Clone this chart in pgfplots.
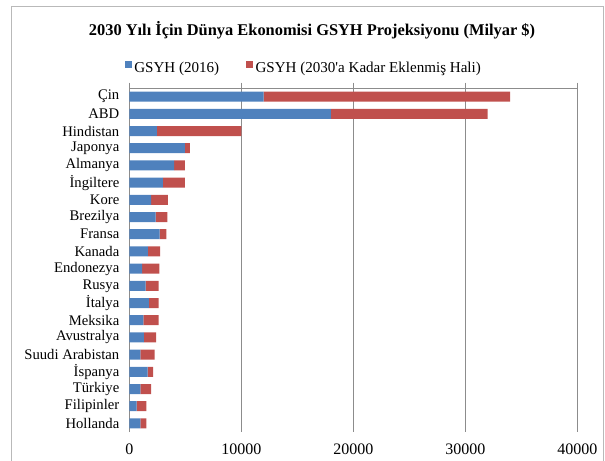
\documentclass[border=0pt]{standalone}
\usepackage{pgfplots}
\pgfplotsset{compat=1.18}
\usepackage{fontspec}
\setmainfont{Liberation Serif}
\definecolor{gblue}{HTML}{4F81BD}
\definecolor{gred}{HTML}{C0504D}
\definecolor{gridc}{HTML}{8C8C8C}
\begin{document}
\begin{tikzpicture}[x=1pt,y=1pt]
\draw[gray!55, line width=0.75pt] (8.25,-5) rectangle (452.25,339.75);
\node[font=\bfseries\fontsize{12.3}{14}\selectfont] at (234,322.5) {2030 Yılı İçin Dünya Ekonomisi GSYH Projeksiyonu (Milyar \$)};
\begin{axis}[
  at={(97pt,21pt)}, anchor=south west,
  scale only axis, width=336pt, height=258pt,
  xbar stacked, bar width=7.5pt,
  y dir=reverse, ymin=-0.5, ymax=19.5,
  ytick={0,...,19},
  yticklabels={Çin,ABD,Hindistan,Japonya,Almanya,İngiltere,Kore,Brezilya,Fransa,Kanada,Endonezya,Rusya,İtalya,Meksika,Avustralya,Suudi Arabistan,İspanya,Türkiye,Filipinler,Hollanda},
  xmin=0, xmax=40000, xtick={0,10000,20000,30000,40000},
  scaled x ticks=false,
  /pgf/number format/assume math mode=true,
  xticklabel style={/pgf/number format/1000 sep={}, font=\fontsize{12}{14}\selectfont, yshift=-1.5pt},
  yticklabel style={font=\fontsize{11}{13}\selectfont},
  xmajorgrids, major grid style={gridc, line width=0.75pt},
  axis line style={draw=none},
  xtick pos=right, xticklabel pos=left,
  tick align=outside, major tick length=4pt,
  xtick style={gridc, line width=0.75pt},
  ytick style={draw=none},
  legend style={at={(axis description cs:0.39,1.058)}, anchor=center, draw=none, fill=none,
    legend columns=2, font=\fontsize{11.3}{13}\selectfont,
    /tikz/every even column/.append style={column sep=18pt}},
  legend image code/.code={\fill[#1,draw=none] (0pt,0pt) rectangle (5.25pt,5.25pt);},
  clip=false,
]
\addplot[fill=gblue, draw=none] coordinates {
(12000,0) (18000,1) (2450,2) (4950,3) (4000,4) (3000,5) (1950,6) (2350,7) (2700,8) (1650,9)
(1150,10) (1450,11) (1750,12) (1250,13) (1300,14) (980,15) (1640,16) (980,17) (660,18) (980,19)};
\addplot[fill=gred, draw=none] coordinates {
(22000,0) (14000,1) (7550,2) (450,3) (950,4) (1950,5) (1500,6) (1050,7) (600,8) (1100,9)
(1530,10) (1170,11) (870,12) (1370,13) (1100,14) (1280,15) (480,16) (960,17) (860,18) (540,19)};
\legend{GSYH (2016), GSYH (2030\textquotesingle a Kadar Eklenmiş Hali)}
\draw[gridc, line width=0.75pt] (axis description cs:0,1) -- (axis description cs:1,1);
\draw[gridc, line width=0.75pt] (axis description cs:0,0) -- (axis description cs:0,1);
\end{axis}
\pgfresetboundingbox
\useasboundingbox (0,0) rectangle (453.75,345);
\end{tikzpicture}
\end{document}
